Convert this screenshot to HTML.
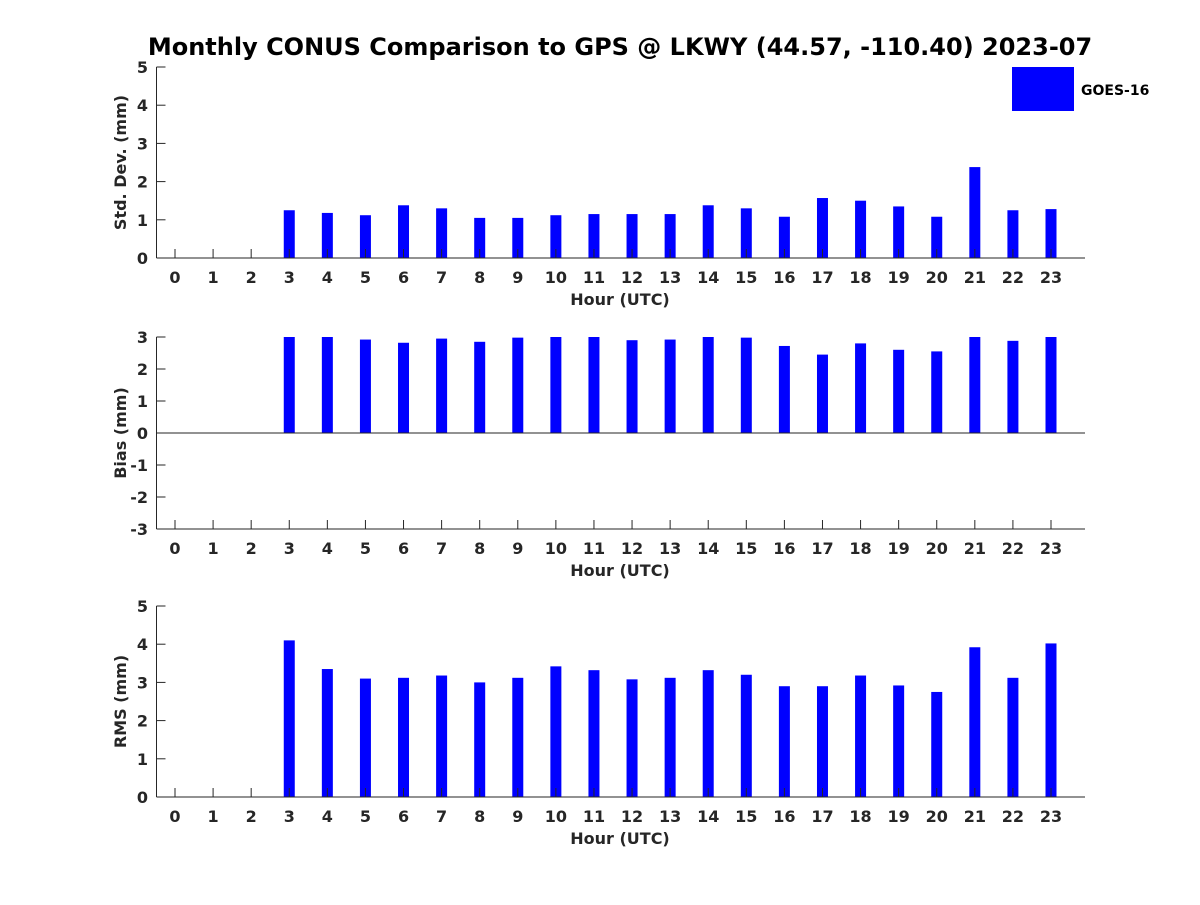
<!DOCTYPE html>
<html><head><meta charset="utf-8"><style>
html,body{margin:0;padding:0;background:#fff}
svg text{font-family:"DejaVu Sans","Liberation Sans",sans-serif;font-weight:bold;fill:#262626}
</style></head><body>
<svg id="chart" width="1200" height="900" xmlns="http://www.w3.org/2000/svg">
<text x="620" y="55" text-anchor="middle" font-size="24" style="fill:#000">Monthly CONUS Comparison to GPS @ LKWY (44.57, -110.40) 2023-07</text>
<rect x="1012" y="67" width="62" height="44" fill="#0000ff"/>
<text x="1081" y="95" font-size="14" style="fill:#000">GOES-16</text>
</svg>
<script>
const hours=[0,1,2,3,4,5,6,7,8,9,10,11,12,13,14,15,16,17,18,19,20,21,22,23];
const stdValues=[null,null,null,1.25,1.18,1.12,1.38,1.3,1.05,1.05,1.12,1.15,1.15,1.15,1.38,1.3,1.08,1.57,1.5,1.35,1.08,2.38,1.25,1.28];
const biasValues=[null,null,null,3.0,3.0,2.92,2.82,2.95,2.85,2.98,3.0,3.0,2.9,2.92,3.0,2.98,2.72,2.45,2.8,2.6,2.55,3.0,2.88,3.0];
const rmsValues=[null,null,null,4.1,3.35,3.1,3.12,3.18,3.0,3.12,3.42,3.32,3.08,3.12,3.32,3.2,2.9,2.9,3.18,2.92,2.75,3.92,3.12,4.02];
const stdTicks=[0,1,2,3,4,5];
const biasTicks=[-3,-2,-1,0,1,2,3];
const rmsTicks=[0,1,2,3,4,5];

const svg=document.getElementById('chart');
const NS='http://www.w3.org/2000/svg';
function mk(tag,attrs){const e=document.createElementNS(NS,tag);for(const k in attrs)e.setAttribute(k,attrs[k]);svg.appendChild(e);return e;}
const xl=156.5,xr=1085;
function xs(h){return 175+h*(1051-175)/23;}

function panel(name,values,ticks,ymin,ymax,top,bottom,ytitle){
  const ys=v=>bottom-(v-ymin)/(ymax-ymin)*(bottom-top);
  // bars
  values.forEach((v,i)=>{
    if(v==null)return;
    const y0=ys(Math.max(0,ymin)),y1=ys(v);
    const r=mk('rect',{x:xs(hours[i])-5.5,y:Math.min(y0,y1),width:11,height:Math.abs(y0-y1),fill:'#0000ff'});
    
    
  });
  // axes
  const ax=mk('line',{x1:xl,y1:top,x2:xl,y2:bottom,stroke:'#262626','stroke-width':1});
  
  
  const bx=mk('line',{x1:xl,y1:bottom,x2:xr,y2:bottom,stroke:'#262626','stroke-width':1});
  
  
  if(ymin<0){
    const z=mk('line',{x1:xl,y1:ys(0),x2:xr,y2:ys(0),stroke:'#262626','stroke-width':1});
    
    
  }
  ticks.forEach(t=>{
    const y=ys(t);
    const l=mk('line',{x1:xl,y1:y,x2:xl+9,y2:y,stroke:'#262626'});
    
    
    const tx=mk('text',{x:148,y:y+6,'text-anchor':'end','font-size':16});
    tx.textContent=t;
    
    
  });
  hours.forEach(h=>{
    const x=xs(h);
    const l=mk('line',{x1:x,y1:bottom,x2:x,y2:bottom-9,stroke:'#262626'});
    
    
    const tx=mk('text',{x:x,y:bottom+25,'text-anchor':'middle','font-size':16});
    tx.textContent=h;
    
    
  });
  const xt=mk('text',{x:620,y:bottom+47,'text-anchor':'middle','font-size':16});
  xt.textContent='Hour (UTC)';
  
  
  const cy=(top+bottom)/2;
  const yt=mk('text',{x:0,y:0,'text-anchor':'middle','font-size':16,transform:`translate(126,${cy}) rotate(-90)`});
  yt.textContent=ytitle;
  
  
}
panel('std',stdValues,stdTicks,0,5,67,258,'Std. Dev. (mm)');
panel('bias',biasValues,biasTicks,-3,3,337,529,'Bias (mm)');
panel('rms',rmsValues,rmsTicks,0,5,606,797,'RMS (mm)');
</script>
</body></html>
